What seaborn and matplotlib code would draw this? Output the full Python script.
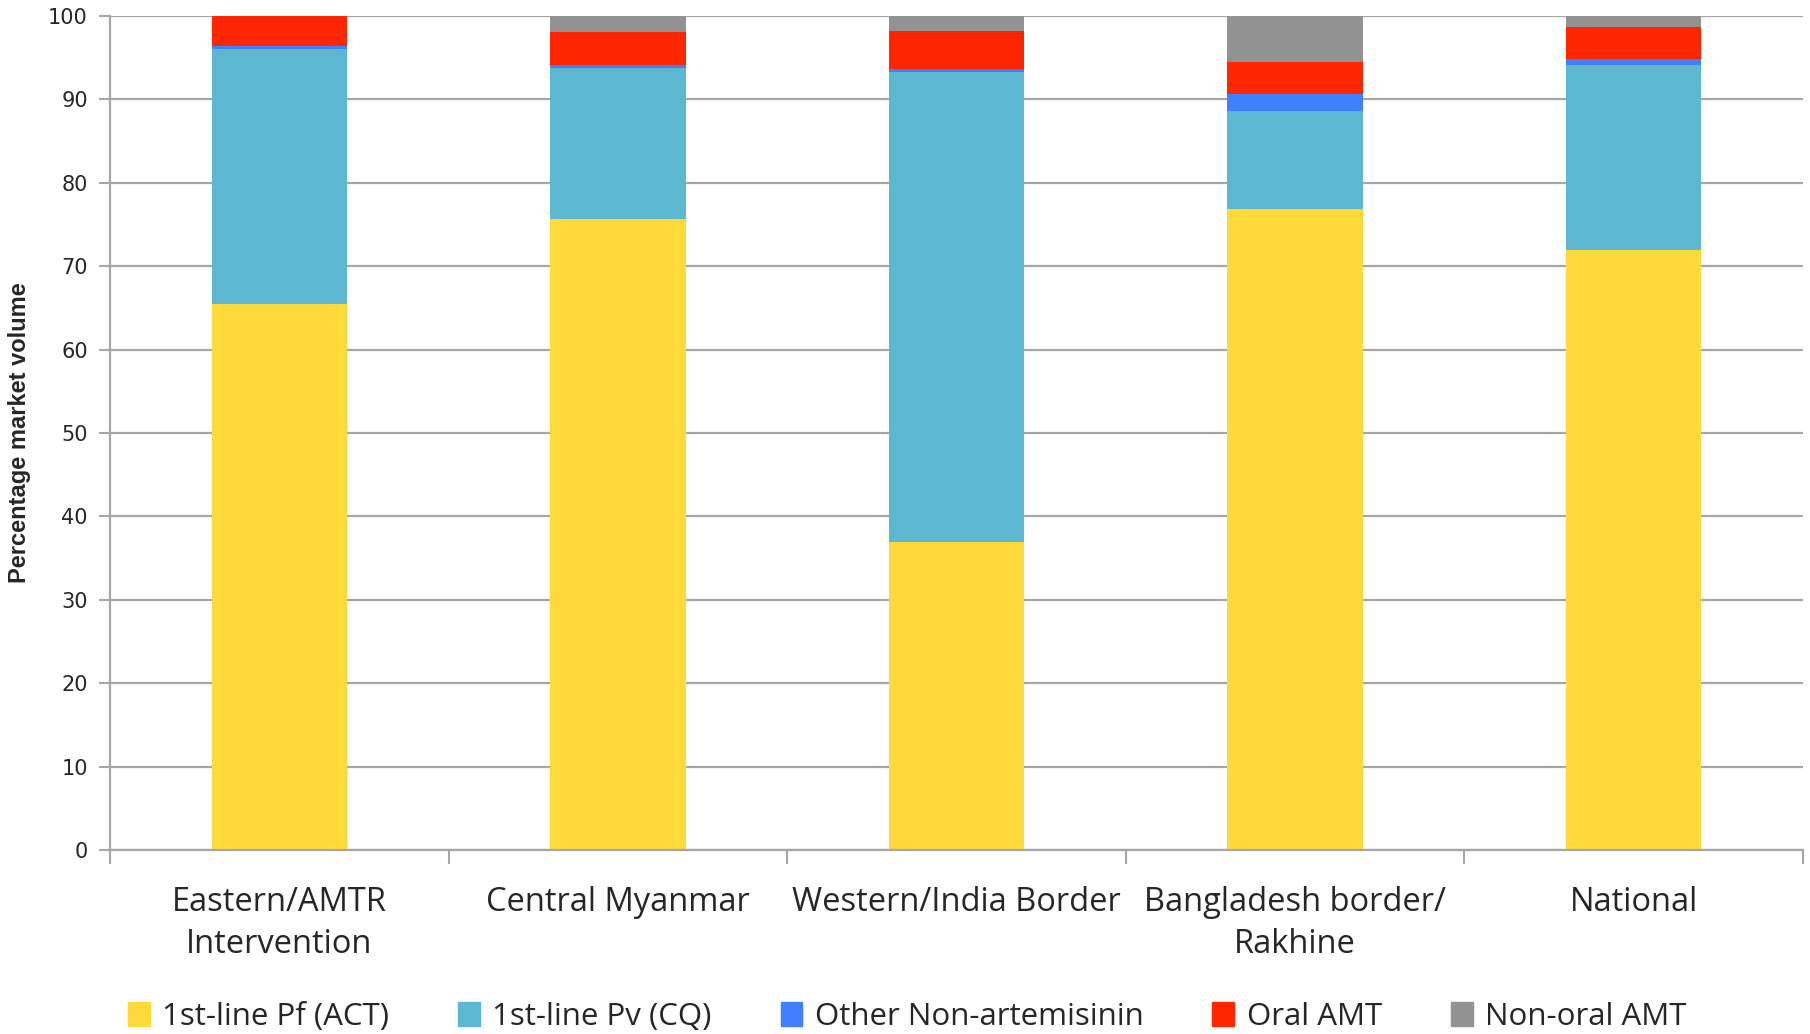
import matplotlib
matplotlib.use("Agg")

import matplotlib.pyplot as plt
import matplotlib.patches as mpatches
import seaborn as sns
import numpy as np
import pandas as pd

regions = ["Eastern/AMTR\nIntervention", "Central Myanmar", "Western/India Border",
           "Bangladesh border/\nRakhine", "National"]
series = ["1st-line Pf (ACT)", "1st-line Pv (CQ)", "Other Non-artemisinin",
          "Oral AMT", "Non-oral AMT"]
pf_act = [65.5, 75.6, 36.9, 76.9, 71.9]
pv_cq = [30.5, 18.2, 56.4, 11.7, 22.2]
other_non_art = [0.4, 0.3, 0.3, 2.1, 0.8]
oral_amt = [3.6, 4.0, 4.6, 3.8, 3.8]
non_oral_amt = [0.0, 1.9, 1.8, 5.5, 1.3]
colors = ["#FDD93A", "#5BB8D0", "#4080FF", "#FF2600", "#929292"]

sns.set_theme(style="white")

df = pd.DataFrame({"region": regions, series[0]: pf_act, series[1]: pv_cq,
                   series[2]: other_non_art, series[3]: oral_amt, series[4]: non_oral_amt})
cum = df[series].cumsum(axis=1)

fig = plt.figure(figsize=(18.1, 10.34), dpi=100)
ax = fig.add_axes([110 / 1810, 1 - 850 / 1034, 1693 / 1810, 834 / 1034])

for ax_grid in np.arange(0, 101, 10):
    ax.axhline(ax_grid, color="#A6A6A6", lw=1.6, zorder=0)

# draw tallest cumulative first so lower segments overlay
for s, c in reversed(list(zip(series, colors))):
    sns.barplot(x=df["region"], y=cum[s], color=c, saturation=1, width=0.4,
                ax=ax, zorder=2, linewidth=0)

ax.set_ylim(0, 100)
ax.set_xlim(-0.5, 4.5)
ax.set_yticks(np.arange(0, 101, 10))
ax.tick_params(axis="y", labelsize=15, length=8, width=1.5, color="#A6A6A6",
               direction="out", pad=8, left=True)
ax.tick_params(axis="x", labelsize=23.5, length=0, pad=26)
ax.set_xticks(np.arange(-0.5, 4.6, 1), minor=True)
ax.tick_params(axis="x", which="minor", length=10, width=1.5, color="#A6A6A6",
               direction="out", bottom=True)
for lbl in ax.get_xticklabels():
    lbl.set_fontfamily("Open Sans")
    lbl.set_linespacing(1.35)
ax.set_xlabel("")
ax.set_ylabel("Percentage market volume", fontsize=17, fontweight="bold",
              fontfamily="Liberation Sans", labelpad=12)

for side in ["top", "right"]:
    ax.spines[side].set_visible(False)
for side in ["left", "bottom"]:
    ax.spines[side].set_color("#A6A6A6")
    ax.spines[side].set_linewidth(1.6)

handles = [mpatches.Patch(color=c, label=s) for s, c in zip(series, colors)]
ax.legend(handles=handles, loc="center left", bbox_to_anchor=(-0.006, -0.2),
          ncol=5, frameon=False, handlelength=0.7, handleheight=0.8,
          handletextpad=0.4, columnspacing=2.2,
          prop={"family": "Open Sans", "size": 22.5})

fig.savefig("out.png", dpi=100)
